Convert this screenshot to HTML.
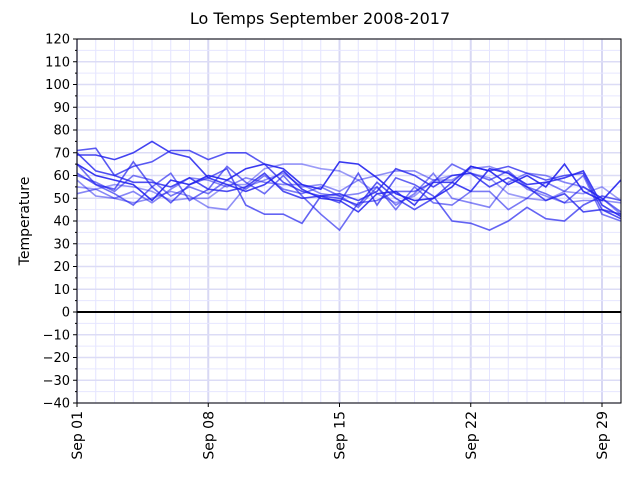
<!DOCTYPE html>
<html><head><meta charset="utf-8"><style>body{margin:0;background:#fff}svg{display:block}text{font-family:"DejaVu Sans","Liberation Sans",sans-serif}</style></head>
<body>
<svg id="s" width="640" height="480" xmlns="http://www.w3.org/2000/svg">
<text x="320" y="24" font-size="16" text-anchor="middle">Lo Temps September 2008-2017</text>
<g id="grid"></g><g id="lines"></g><g id="axes"></g>
<text transform="translate(29,221) rotate(-90)" font-size="14" text-anchor="middle">Temperature</text>
</svg>
<script>
var L=77,R=621,T=39,B=403;
function X(d){return L+(d-1)*18.75}
function Y(v){return B-(v+40)*(B-T)/160}
var g='',a='',ns='http://www.w3.org/2000/svg';
for(var d=1;d<=30;d++){var x=X(d);var maj=(d-1)%7==0;g+='<line x1="'+x+'" x2="'+x+'" y1="'+T+'" y2="'+B+'" stroke="'+(maj?'#d8d8f4':'#e4e4ff')+'" stroke-width="'+(maj?2:1)+'"/>';}
for(var v=-40;v<=120;v+=5){var y=Y(v);var maj=v%10==0;g+='<line x1="'+L+'" x2="'+R+'" y1="'+y+'" y2="'+y+'" stroke="'+(maj?'#dcdcf6':'#e6e6ff')+'" stroke-width="'+(maj?1.6:1)+'"/>';
a+='<line x1="'+L+'" x2="'+(L-(maj?4:2))+'" y1="'+y+'" y2="'+y+'" stroke="#000"/>';
if(maj)a+='<text x="'+(L-7)+'" y="'+(y+4.5)+'" font-size="13" text-anchor="end">'+(v<0?'\u2212'+(-v):v)+'</text>';}
[[1,'Sep 01'],[8,'Sep 08'],[15,'Sep 15'],[22,'Sep 22'],[29,'Sep 29']].forEach(function(p){var x=X(p[0]);a+='<line x1="'+x+'" x2="'+x+'" y1="'+B+'" y2="'+(B+4)+'" stroke="#000"/><text transform="translate('+(x+5)+','+(B+8)+') rotate(-90)" font-size="14" text-anchor="end">'+p[1]+'</text>';});
a+='<line x1="'+L+'" x2="'+R+'" y1="'+Y(0)+'" y2="'+Y(0)+'" stroke="#000" stroke-width="2"/>';
a+='<rect x="'+L+'" y="'+T+'" width="'+(R-L)+'" height="'+(B-T)+'" fill="none" stroke="#000"/>';
var data=[
[69,69,67,70,75,70,68,59,56,53,56,62,54,50,49,44,52,53,47,57,57,53,63,61,56,57,59,62,47,42],
[71,72,60,64,66,71,71,67,70,70,65,57,53,51,50,47,57,50,45,50,57,64,62,64,61,58,60,61,45,43],
[65,60,58,56,49,58,56,60,58,63,65,63,56,54,66,65,59,52,49,50,55,64,62,56,60,55,65,53,49,58],
[60,57,53,60,58,51,55,52,58,54,60,54,52,55,51,46,55,45,55,48,47,53,53,45,50,57,53,60,43,40],
[61,56,54,66,55,48,56,59,63,47,43,43,39,51,48,61,47,59,56,51,40,39,36,40,46,41,40,47,51,49],
[65,56,52,47,55,61,49,54,64,57,52,60,51,43,36,48,49,53,53,57,65,61,58,62,55,52,48,55,50,44],
[52,54,50,53,48,54,59,58,55,59,57,56,56,52,51,52,55,47,52,61,50,48,46,57,61,60,57,55,50,43],
[58,51,50,48,50,53,51,46,45,55,58,61,55,56,53,58,60,62,62,58,58,63,64,61,54,51,48,49,49,48],
[55,54,56,55,53,49,50,50,56,56,63,65,65,63,62,58,52,48,51,58,60,61,59,52,50,49,53,52,55,49],
[70,62,60,57,57,55,59,54,53,55,61,53,50,51,52,49,53,63,60,55,60,61,55,59,55,49,52,44,45,41]];
var ops=[0.85,0.75,0.9,0.6,0.7,0.65,0.55,0.5,0.45,0.8];
var ln='';data.forEach(function(s,i){var p=s.map(function(v,j){return X(j+1).toFixed(1)+','+Y(v).toFixed(1)}).join(' ');ln+='<polyline points="'+p+'" fill="none" stroke="#2222ee" stroke-opacity="'+ops[i]+'" stroke-width="1.6"/>';});
document.getElementById('grid').innerHTML=g;document.getElementById('lines').innerHTML=ln;document.getElementById('axes').innerHTML=a;
</script>
</body></html>
